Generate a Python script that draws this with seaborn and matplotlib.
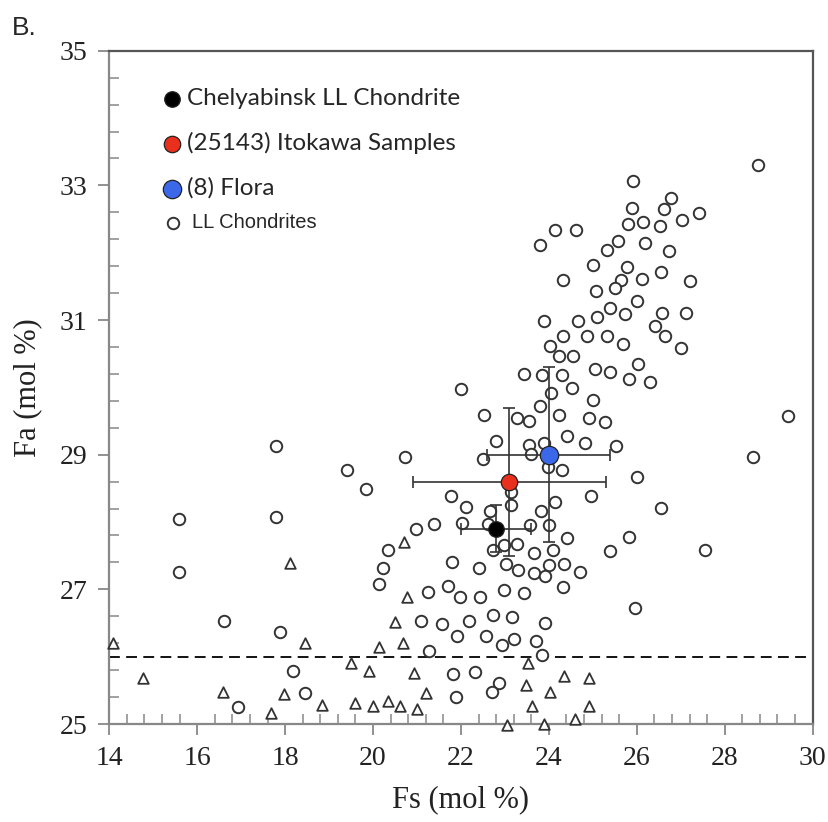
import pandas as pd
import matplotlib
matplotlib.use('Agg')
import matplotlib.pyplot as plt
import seaborn as sns

# LL chondrites (open circles)
ll_fs = [28.75, 25.91, 26.77, 25.90, 26.62, 27.42, 27.02, 25.81, 26.15, 26.52,
         24.13, 24.61, 23.79, 25.58, 25.32, 26.18, 26.74, 25.00, 25.77, 26.54,
         24.31, 27.20, 25.64, 26.12, 25.50, 25.08, 26.00, 25.40, 25.10, 25.73,
         26.58, 27.11, 23.90, 24.67, 26.41, 24.31, 24.86, 25.33, 26.65, 24.03,
         25.69, 27.01, 24.23, 24.55, 23.43, 23.84, 24.29, 25.04, 25.38, 26.02,
         25.83, 26.31, 24.52, 24.04, 25.01, 23.79,
         22.00, 22.52, 23.28, 23.55, 24.23, 24.91, 25.27, 24.42, 22.79, 23.54,
         23.90, 23.60, 24.81, 25.53, 20.72, 22.49, 23.98, 24.30, 26.00, 23.13,
         21.78, 24.96, 22.12, 23.14, 24.14, 22.67, 23.81, 20.97, 21.38, 22.03,
         22.61, 23.58, 24.00, 25.83, 24.41, 22.73, 22.97, 23.28, 24.09, 23.65,
         25.40, 21.80, 22.41, 23.03, 23.30, 23.67, 24.00, 24.34, 24.70,
         19.85, 20.33, 20.23, 20.13, 21.25, 21.70, 21.98, 22.43, 22.97, 21.10,
         21.57, 22.18, 22.73, 23.17, 21.92, 22.58, 22.93, 23.20, 21.27, 21.83,
         22.31, 22.86, 22.71, 21.88,
         16.61, 17.88, 18.18, 16.93, 18.46,
         25.95, 23.92, 23.70, 23.85,
         17.80, 19.40, 15.59, 17.80, 15.59,
         29.43, 28.64, 26.54, 27.54, 24.31, 23.92, 23.43]
ll_fa = [33.30, 33.07, 32.81, 32.67, 32.65, 32.59, 32.49, 32.43, 32.46, 32.39,
         32.33, 32.33, 32.11, 32.18, 32.04, 32.14, 32.02, 31.82, 31.79, 31.71,
         31.60, 31.58, 31.60, 31.61, 31.47, 31.43, 31.29, 31.18, 31.05, 31.09,
         31.11, 31.11, 30.98, 30.98, 30.91, 30.76, 30.76, 30.76, 30.76, 30.62,
         30.65, 30.59, 30.46, 30.47, 30.20, 30.19, 30.19, 30.27, 30.23, 30.34,
         30.12, 30.08, 29.99, 29.92, 29.81, 29.72,
         29.98, 29.59, 29.55, 29.50, 29.59, 29.55, 29.49, 29.28, 29.20, 29.14,
         29.18, 29.01, 29.17, 29.13, 28.96, 28.93, 28.82, 28.77, 28.67, 28.44,
         28.39, 28.39, 28.23, 28.25, 28.30, 28.16, 28.16, 27.90, 27.97, 27.99,
         27.97, 27.96, 27.95, 27.78, 27.77, 27.59, 27.66, 27.68, 27.58, 27.54,
         27.57, 27.40, 27.31, 27.37, 27.29, 27.25, 27.36, 27.37, 27.26,
         28.49, 27.58, 27.31, 27.08, 26.96, 27.05, 26.89, 26.89, 26.99, 26.53,
         26.48, 26.53, 26.62, 26.59, 26.31, 26.31, 26.17, 26.26, 26.09, 25.74,
         25.78, 25.61, 25.47, 25.40,
         26.53, 26.36, 25.79, 25.26, 25.46,
         26.72, 26.50, 26.24, 26.02,
         29.13, 28.78, 28.04, 28.07, 27.26,
         29.58, 28.96, 28.21, 27.58, 27.03, 27.20, 26.95]

# other chondrites (open triangles)
tri_fs = [14.09, 14.77, 16.58, 17.69, 17.97, 18.11, 18.45, 18.83, 19.49, 19.60,
          19.91, 19.99, 20.13, 20.34, 20.51, 20.61, 20.68, 20.70, 20.78, 20.93,
          21.01, 21.21, 23.05, 23.49, 23.52, 23.61, 23.90, 24.03, 24.34, 24.60,
          24.92, 24.92]
tri_fa = [26.20, 25.69, 25.47, 25.17, 25.44, 27.39, 26.20, 25.28, 25.90, 25.31,
          25.79, 25.27, 26.15, 25.34, 26.52, 25.27, 26.20, 27.71, 26.88, 25.76,
          25.23, 25.46, 24.99, 25.58, 25.90, 25.27, 25.00, 25.47, 25.71, 25.08,
          25.69, 25.27]

# highlighted objects
obj_names = ['Chelyabinsk LL Chondrite', '(25143) Itokawa Samples', '(8) Flora']
obj_fs = [22.8, 23.1, 24.0]
obj_fa = [27.9, 28.6, 29.0]
obj_fs_err = [0.8, 2.2, 1.4]
obj_fa_err = [0.35, 1.1, 1.3]
obj_colors = ['#000000', '#E8301C', '#3A68E8']
obj_sizes = [125, 140, 175]

ll = pd.DataFrame({'Fs': ll_fs, 'Fa': ll_fa})
tri = pd.DataFrame({'Fs': tri_fs, 'Fa': tri_fa})

sns.set_style('ticks')
serif = ['Liberation Serif', 'DejaVu Serif']

fig, ax = plt.subplots(figsize=(8.29, 8.22), dpi=100)
fig.subplots_adjust(left=0.1318, right=0.9803, bottom=0.1192, top=0.9383)

sns.scatterplot(data=ll, x='Fs', y='Fa', ax=ax, marker='o', s=68,
                facecolor='white', edgecolor='#333333', linewidth=1.4,
                label='LL Chondrites', zorder=3, clip_on=False)
sns.scatterplot(data=tri, x='Fs', y='Fa', ax=ax, marker='^', s=58,
                facecolor='white', edgecolor='#333333', linewidth=1.3,
                zorder=3, clip_on=False)

ax.axhline(26, color='black', linestyle=(0, (6, 3.5)), linewidth=1.3, zorder=2)

for i in range(len(obj_names)):
    ax.errorbar(obj_fs[i], obj_fa[i], xerr=obj_fs_err[i], yerr=obj_fa_err[i],
                fmt='none', ecolor='#333333', elinewidth=1.2, capsize=4,
                capthick=1.2, zorder=4)
    sns.scatterplot(x=[obj_fs[i]], y=[obj_fa[i]], ax=ax, s=obj_sizes[i],
                    color=obj_colors[i], edgecolor='#222222', linewidth=0.9,
                    label=obj_names[i], zorder=5)

ax.set_xlim(14, 30)
ax.set_ylim(25, 35)
ax.set_xticks(range(14, 31, 2))
ax.set_yticks(range(25, 36, 2))
ax.set_xticks([14 + 0.4 * k for k in range(41)], minor=True)
ax.set_yticks([25 + 0.4 * k for k in range(26)], minor=True)
ax.tick_params(which='major', direction='out', length=8, width=1.3,
               color='#888888', labelsize=20, labelcolor='#222222', pad=8)
ax.tick_params(which='minor', direction='in', length=7, width=1.1,
               color='#888888')
ax.tick_params(axis='x', which='both', top=False)
ax.tick_params(axis='y', which='both', right=False)
for lab in ax.get_xticklabels() + ax.get_yticklabels():
    lab.set_family(serif)

for side in ['left', 'bottom']:
    ax.spines[side].set_color('#888888')
    ax.spines[side].set_linewidth(1.6)
for side in ['top', 'right']:
    ax.spines[side].set_visible(True)
    ax.spines[side].set_color('#555555')
    ax.spines[side].set_linewidth(1.6)

ax.set_xlabel('Fs (mol %)', fontsize=22, family=serif, color='#222222', labelpad=10)
ax.set_ylabel('Fa (mol %)', fontsize=22, family=serif, color='#222222', labelpad=12)

# legend: three highlighted objects, then the LL chondrites entry below
handles, labels = ax.get_legend_handles_labels()
leg1 = ax.legend([handles[labels.index(n)] for n in obj_names], obj_names,
                 loc='upper left', bbox_to_anchor=(0.043, 0.977), frameon=False,
                 handletextpad=0.15, labelspacing=0.95, handlelength=0.9,
                 prop={'family': ['Lato', 'DejaVu Sans'], 'size': 17.5})
ax.add_artist(leg1)
ax.legend([handles[labels.index('LL Chondrites')]], ['LL Chondrites'],
          loc='center left', bbox_to_anchor=(0.052, 0.7445), frameon=False,
          handletextpad=0.55, handlelength=0.85,
          prop={'family': ['Liberation Sans', 'DejaVu Sans'], 'size': 14.5})

fig.text(0.014, 0.958, 'B.', fontsize=19, family=['Liberation Sans', 'DejaVu Sans'])

plt.savefig('out.png', dpi=100)
